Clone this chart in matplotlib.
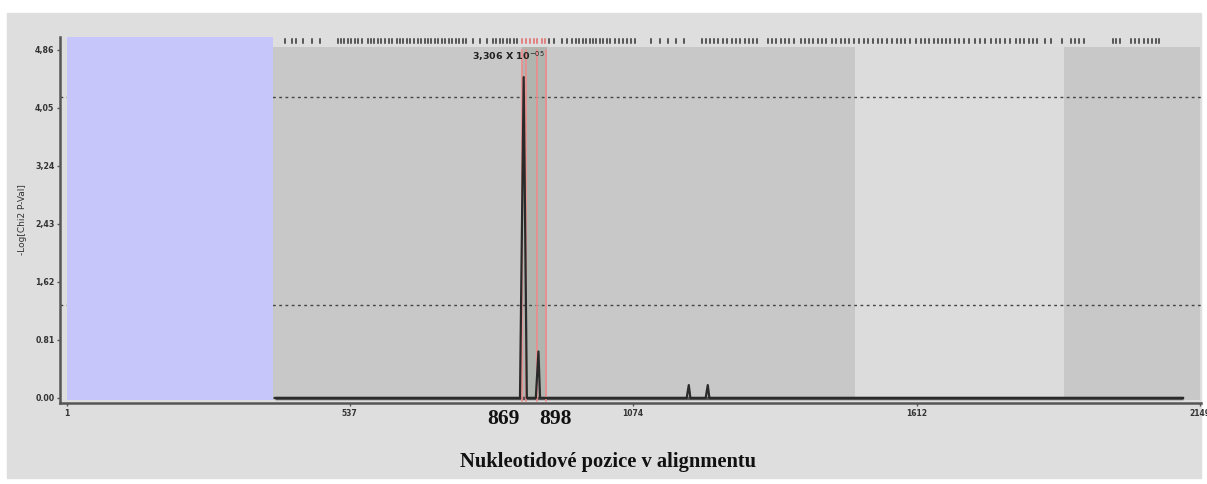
import matplotlib.pyplot as plt
from matplotlib.patches import Rectangle

# Chi2 profile along the alignment
positions = [395, 860, 867, 873, 890, 895, 898, 1176, 1180, 1183, 1212, 1216, 1219, 2117]
log_p = [0, 0, 4.48, 0, 0, 0.65, 0, 0, 0.18, 0, 0, 0.18, 0, 0]

# background regions (start, end, colour)
regions = [(1, 391, '#c6c6fb'), (391, 1495, '#c8c8c8'),
           (1495, 1891, '#dcdcdc'), (1891, 2149, '#c8c8c8')]

# significance thresholds
thresholds = [4.20, 1.30]

# highlighted window
win_start, win_end = 869, 898

# variable sites shown at the top
sites = [414, 428, 436, 449, 466, 481,
         515, 521, 527, 534, 540, 548, 553, 560, 571, 578, 584, 590, 597, 604,
         611, 617, 626, 632, 638, 645, 652, 659, 666, 672, 679, 686, 692, 698,
         705, 712, 718, 725, 731, 738, 745, 752, 758, 770, 785, 797, 808, 815,
         822, 828, 835, 842, 848, 855,
         864, 871, 879, 886, 893, 901, 908,
         915, 925, 940, 950, 958, 966, 972,
         980, 986, 992, 999, 1005, 1012, 1018, 1025, 1031, 1040, 1047, 1055,
         1062, 1070, 1078,
         1108, 1125, 1140, 1155, 1170,
         1205, 1212, 1220, 1228, 1236, 1244, 1252, 1262, 1270, 1278, 1286,
         1294, 1302, 1310,
         1330, 1338, 1346, 1354, 1362, 1370, 1380, 1392, 1400, 1408, 1416,
         1424, 1432, 1440, 1452, 1460, 1468, 1476, 1484, 1494, 1502, 1512,
         1520, 1530, 1538, 1546, 1556, 1566, 1574, 1582, 1590, 1600, 1610,
         1620, 1628, 1636, 1644, 1652, 1660, 1668, 1676, 1684, 1692, 1702,
         1712, 1722, 1732, 1742, 1752, 1762, 1770, 1780, 1789,
         1800, 1808, 1816, 1824, 1832, 1840, 1856, 1866, 1888, 1904, 1912,
         1920, 1930, 1984, 1990, 1997, 2018, 2026, 2034, 2042, 2050, 2058,
         2066, 2072]

xticks = [1, 537, 1074, 1612, 2149]
yticks = [0.00, 0.81, 1.62, 2.43, 3.24, 4.05, 4.86]
ytick_labels = ['0.00', '0.81', '1,62', '2,43', '3,24', '4,05', '4,86']

fig = plt.figure(figsize=(12.07, 4.84), dpi=100)
fig.patches.append(Rectangle((7 / 1207, 6 / 484), 1194 / 1207, 465 / 484,
                             transform=fig.transFigure, color='#dedede', zorder=-5))
ax = fig.add_axes([60 / 1207, 81 / 484, 1141 / 1207, 366 / 484])
ax.set_facecolor('none')
ax.set_xlim(-12, 2151)
ax.set_ylim(-0.07, 5.04)

for t in thresholds:
    ax.axhline(t, color='#444444', lw=1, ls=(0, (2, 2.5)), zorder=1)

for s, e, c in regions:
    top = 5.04 if s == 1 else 4.90
    ax.add_patch(Rectangle((s, -0.03), e - s, top + 0.03, color=c,
                           zorder=2 if s == 1 else 0.5, lw=0))

# window
ax.add_patch(Rectangle((863, -0.03), 48, 4.93, color='#aeb2ab', alpha=0.85, zorder=0.8, lw=0))
for xv in [864, 871, 892, 910]:
    ax.axvline(xv, ymin=0.005, ymax=0.965, color='#ee8c8c', lw=1.2, zorder=3)

ax.plot([395, 2117], [0, 0], color='#555555', lw=2.5, zorder=2.5, solid_capstyle='butt')
ax.plot(positions, log_p, color='#2a2a2a', lw=1.6, zorder=4)

for s in sites:
    c = '#e06868' if win_start - 6 <= s <= win_end + 12 else '#333333'
    ax.plot([s, s], [4.95, 5.01], color=c, lw=1.1, zorder=3)

ax.text(838, 4.87, '3,306 X 10$^{-05}$', ha='center', va='top',
        fontsize=6.8, fontweight='bold', color='#222222', zorder=5)

ax.spines['top'].set_visible(False)
ax.spines['right'].set_visible(False)
for sp in ['left', 'bottom']:
    ax.spines[sp].set_color('#555555')
    ax.spines[sp].set_linewidth(1.8)

ax.set_xticks(xticks)
ax.set_xticklabels([str(v) for v in xticks], fontsize=5.5, fontweight='bold', color='#333333')
ax.set_yticks(yticks)
ax.set_yticklabels(ytick_labels, fontsize=5.7, fontweight='bold', color='#333333')
ax.tick_params(axis='both', length=2, width=1, color='#555555', pad=2)
ax.set_ylabel('-Log[Chi2 P-Val]', fontsize=6.5, color='#333333', labelpad=6)

serif = ['Liberation Serif', 'DejaVu Serif']
for v, xp in [(win_start, 503 / 1207), (win_end, 556 / 1207)]:
    fig.text(xp, 1 - 419 / 484, str(v), ha='center', va='center', fontsize=15.5,
             fontweight='bold', family=serif, color='#111111')
fig.text(608 / 1207, 1 - 462 / 484, 'Nukleotidové pozice v alignmentu', ha='center',
         va='center', fontsize=14.8, fontweight='bold', family=serif, color='#111111')

fig.savefig('out.png', dpi=100)
